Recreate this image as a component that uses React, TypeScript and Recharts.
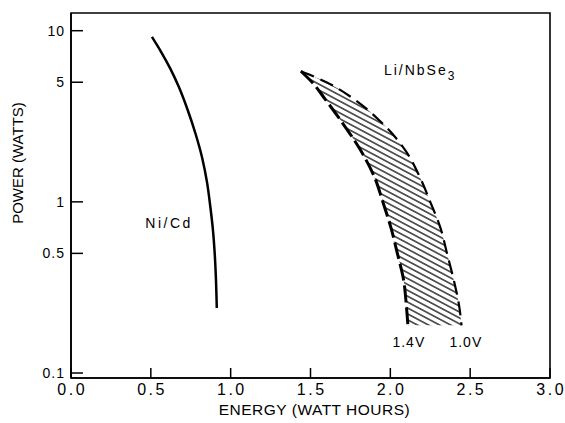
import React from 'react';
import { ComposedChart, Line, Area, XAxis, YAxis, ReferenceDot, ReferenceArea, Label } from 'recharts';

// Axis ticks
const energyTicks = [0, 0.5, 1, 1.5, 2, 2.5, 3];
const powerTicks = [0.1, 0.5, 1, 5, 10];
const energyTickLabels = ['0.0', '0.5', '1.0', '1.5', '2.0', '2.5', '3.0'];
const powerTickLabels = ['0.1', '0.5', '1', '5', '10'];

// Ni/Cd curve (power in W, energy in Wh)
const nicdPower = [9.2, 7.5, 6.0, 4.7, 3.5, 2.5, 1.8, 1.3, 0.93, 0.7, 0.5, 0.35, 0.24];
const nicdEnergy = [0.507, 0.565, 0.622, 0.675, 0.728, 0.78, 0.822, 0.852, 0.873, 0.888, 0.9, 0.908, 0.913];

// Li/NbSe3 band: 1.4 V and 1.0 V cut-off curves
const liPower = [5.8, 5.0, 4.0, 3.0, 2.0, 1.4, 1.0, 0.7, 0.5, 0.35, 0.25, 0.19];
const li14V = [1.44, 1.51, 1.59, 1.688, 1.814, 1.9, 1.953, 2.005, 2.044, 2.083, 2.1, 2.11];
const li10V = [1.44, 1.6, 1.77, 1.93, 2.094, 2.184, 2.25, 2.315, 2.355, 2.397, 2.43, 2.446];

const nicdData = nicdPower.map((p, i) => ({ p, e: nicdEnergy[i] }));
const liData = liPower.map((p, i) => ({ p, lo: li14V[i], hi: li10V[i], band: [li14V[i], li10V[i]] }));

const FONT = '"Liberation Sans", Arial, sans-serif';
const Y_DOMAIN: [number, number] = [0.0935, 12.69];

const XTick = (props: any) => {
  const { x, y, payload } = props;
  const axisY = y - 11;
  return (
    <g>
      <line x1={x} x2={x} y1={axisY} y2={axisY - 10} stroke="#000" strokeWidth={1.5} />
      <text x={x + 1.2} y={y} dy="0.36em" textAnchor="middle" fontFamily={FONT} fontSize={16} letterSpacing={2.5} fill="#000">
        {energyTickLabels[energyTicks.indexOf(payload.value)] ?? String(payload.value)}
      </text>
    </g>
  );
};

const YTick = (props: any) => {
  const { x, y, payload } = props;
  const axisX = x + 7;
  return (
    <g>
      <line x1={axisX} x2={axisX + 12} y1={y} y2={y} stroke="#000" strokeWidth={1.5} />
      <text x={x + 1} y={y} dy="0.36em" textAnchor="end" fontFamily={FONT} fontSize={14} letterSpacing={1} fill="#000">
        {powerTickLabels[powerTicks.indexOf(payload.value)] ?? String(payload.value)}
      </text>
    </g>
  );
};

const textLabel = (value: string, size: number, spacing: number) => (props: any) => {
  const vb = props.viewBox || {};
  return (
    <text x={vb.x} y={vb.y} dy="0.36em" textAnchor="middle" fontFamily={FONT} fontSize={size} letterSpacing={spacing} fill="#000">
      {value}
    </text>
  );
};

const liLabel = (props: any) => {
  const vb = props.viewBox || {};
  return (
    <text x={vb.x} y={vb.y} dy="0.36em" textAnchor="start" fontFamily={FONT} fontSize={14} letterSpacing={2} fill="#000">
      <tspan>Li/NbSe</tspan>
      <tspan dy={5} fontSize={12}>3</tspan>
    </text>
  );
};

export default function App() {
  return (
    <div style={{ position: 'absolute', left: 0, top: 0 }}>
      <ComposedChart
        width={565}
        height={423}
        layout="vertical"
        data={liData}
        margin={{ top: 13, right: 15, left: 0, bottom: 0 }}
      >
        <defs>
          <pattern id="hatch" patternUnits="userSpaceOnUse" width={8} height={5.2} patternTransform="rotate(28)">
            <line x1={0} x2={8} y1={2.6} y2={2.6} stroke="#000" strokeWidth={1.2} />
          </pattern>
        </defs>
        <XAxis
          type="number"
          domain={[0, 3]}
          ticks={energyTicks}
          interval={0}
          allowDataOverflow
          tick={XTick}
          tickLine={false}
          tickSize={0}
          tickMargin={11}
          height={45}
          axisLine={{ stroke: '#000', strokeWidth: 1.6 }}
        >
          <Label
            content={(p: any) => {
              const vb = p.viewBox || { x: 71, y: 378, width: 479, height: 45 };
              return (
                <text x={vb.x + vb.width / 2 + 4} y={vb.y + 31} dy="0.36em" textAnchor="middle" fontFamily={FONT} fontSize={15.5} letterSpacing={0.5} fill="#000">
                  ENERGY (WATT HOURS)
                </text>
              );
            }}
          />
        </XAxis>
        <YAxis
          type="number"
          dataKey="p"
          scale="log"
          reversed
          domain={Y_DOMAIN}
          ticks={powerTicks}
          interval={0}
          allowDataOverflow
          tick={YTick}
          tickLine={false}
          tickSize={0}
          tickMargin={7}
          width={71}
          axisLine={{ stroke: '#000', strokeWidth: 1.6 }}
        >
          <Label
            content={(p: any) => {
              const vb = p.viewBox || { x: 0, y: 13, width: 71, height: 365 };
              const cx = vb.x + 18;
              const cy = vb.y + 150;
              return (
                <text x={cx} y={cy} dy="0.36em" transform={`rotate(-90, ${cx}, ${cy})`} textAnchor="middle" fontFamily={FONT} fontSize={15} fill="#000">
                  POWER (WATTS)
                </text>
              );
            }}
          />
        </YAxis>

        <ReferenceArea x1={0} x2={3} y1={Y_DOMAIN[0]} y2={Y_DOMAIN[1]} ifOverflow="visible" fill="none" stroke="#000" strokeWidth={1.6} fillOpacity={0} />

        <Area dataKey="band" type="monotone" fill="url(#hatch)" fillOpacity={1} stroke="none" isAnimationActive={false} />
        <Line dataKey="lo" type="monotone" stroke="#000" strokeWidth={3} strokeDasharray="17 5" dot={false} isAnimationActive={false} />
        <Line dataKey="hi" type="monotone" stroke="#000" strokeWidth={2.2} strokeDasharray="14 7" dot={false} isAnimationActive={false} />
        <Line data={nicdData} dataKey="e" type="monotone" stroke="#000" strokeWidth={2.5} dot={false} isAnimationActive={false} />

        <ReferenceDot x={0.614} y={0.75} r={0} fill="none" stroke="none" label={textLabel('Ni/Cd', 14, 2.5)} />
        <ReferenceDot x={1.96} y={5.9} r={0} fill="none" stroke="none" label={liLabel} />
        <ReferenceDot x={2.116} y={0.152} r={0} fill="none" stroke="none" label={textLabel('1.4V', 14, 1)} />
        <ReferenceDot x={2.473} y={0.152} r={0} fill="none" stroke="none" label={textLabel('1.0V', 14, 1)} />
      </ComposedChart>
    </div>
  );
}
